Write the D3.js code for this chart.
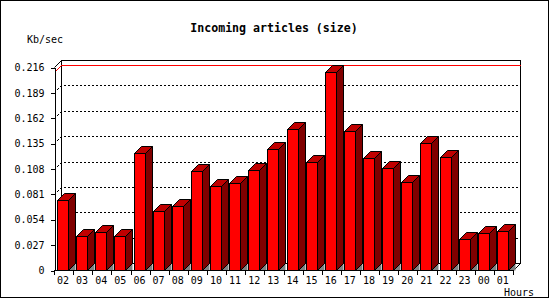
<!DOCTYPE html>
<html>
<head>
<meta charset="utf-8">
<script src="https://cdn.jsdelivr.net/npm/d3@7"></script>
<style>
    body { margin: 0; background: #fff; }
    svg { display: block; }
    text { font-family: "DejaVu Sans Mono", monospace; fill: #000; }
</style>
</head>
<body>
<svg id="chart"></svg>
<script>
// data
let hours = ['02', '03', '04', '05', '06', '07', '08', '09', '10', '11', '12', '13',
    '14', '15', '16', '17', '18', '19', '20', '21', '22', '23', '00', '01'];
let sizes = [0.0745, 0.0359, 0.0401, 0.0359, 0.1242, 0.0624, 0.0681, 0.1050,
    0.0890, 0.0922, 0.1061, 0.1287, 0.1500, 0.1146, 0.2107, 0.1479,
    0.1192, 0.1085, 0.0936, 0.1351, 0.1202, 0.0330, 0.0394, 0.0415];
let yTicks = [0, 0.027, 0.054, 0.081, 0.108, 0.135, 0.162, 0.189, 0.216];

const width = 550;
const height = 300;
const depth = 7;
const plotLeft = 54, plotRight = 513, plotBottom = 270, plotTop = 67;

let svg = d3.select('#chart')
    .attr('width', width)
    .attr('height', height)
    .attr('shape-rendering', 'crispEdges');

let x = d3.scaleBand()
    .domain(hours)
    .range([plotLeft, plotRight]);

let y = d3.scaleLinear()
    .domain([0, d3.max(yTicks)])
    .range([plotBottom, plotTop]);

// outer frame
svg.append('rect')
    .attr('x', 0.5).attr('y', 0.5)
    .attr('width', 548).attr('height', 297)
    .attr('fill', 'none').attr('stroke', '#000');

svg.append('text')
    .attr('x', 274).attr('y', 28)
    .attr('dy', '0.35em')
    .attr('text-anchor', 'middle')
    .style('font-size', '11.6px')
    .style('font-weight', 'bold')
    .text('Incoming articles (size)');

svg.append('text')
    .attr('x', 45).attr('y', 39)
    .attr('dy', '0.35em')
    .attr('text-anchor', 'middle')
    .style('font-size', '10px')
    .text('Kb/sec');

// back wall
svg.append('rect')
    .attr('x', plotLeft + depth + 0.5).attr('y', y(d3.max(yTicks)) - depth + 0.5)
    .attr('width', plotRight - plotLeft).attr('height', plotBottom - plotTop)
    .attr('fill', '#fff').attr('stroke', '#000');

// top edge of the left wall
svg.append('line')
    .attr('x1', plotLeft + 0.5).attr('y1', y(d3.max(yTicks)) + 0.5)
    .attr('x2', plotLeft + depth + 0.5).attr('y2', y(d3.max(yTicks)) - depth + 0.5)
    .attr('stroke', '#000')
    .attr('shape-rendering', 'auto');

// dotted grid
svg.selectAll('.grid')
    .data(yTicks.filter(d => d > 0 && d < d3.max(yTicks)))
    .enter()
    .append('polyline')
    .classed('grid', true)
    .attr('points', d => {
        let yy = Math.round(y(d)) + 0.5;
        return [[plotLeft + 0.5, yy], [plotLeft + depth + 0.5, yy - depth], [plotRight + depth + 0.5, yy - depth]].join(' ');
    })
    .attr('fill', 'none')
    .attr('stroke', '#000')
    .attr('stroke-dasharray', '2,2');

// maximum line
let maxY = Math.round(y(d3.max(sizes))) + 0.5;
svg.append('polyline')
    .attr('points', [[plotLeft + 0.5, maxY], [plotLeft + depth + 0.5, maxY - depth], [plotRight + depth + 0.5, maxY - depth]].join(' '))
    .attr('fill', 'none')
    .attr('stroke', '#ff0000');

// right floor edge
svg.append('line')
    .attr('x1', plotRight + 0.5).attr('y1', plotBottom + 0.5)
    .attr('x2', plotRight + depth + 0.5).attr('y2', plotBottom - depth + 0.5)
    .attr('stroke', '#000')
    .attr('shape-rendering', 'auto');

// bars
let bars = svg.selectAll('.bar')
    .data(sizes)
    .enter()
    .append('g')
    .classed('bar', true);

function barBox(d, i) {
    let x0 = Math.round(x(hours[i])) + 3 + 0.5;
    let x1 = x0 + 11;
    let yt = Math.round(y(d)) + 0.5;
    let yb = plotBottom + 0.5;
    return { x0, x1, yt, yb };
}

bars.append('polygon')
    .attr('points', (d, i) => {
        let b = barBox(d, i);
        return [[b.x1, b.yb], [b.x1 + depth, b.yb - depth], [b.x1 + depth, b.yb]].join(' ');
    })
    .attr('fill', '#808080')
    .attr('shape-rendering', 'auto');

bars.append('polygon')
    .attr('points', (d, i) => {
        let b = barBox(d, i);
        return [[b.x1, b.yt], [b.x1 + depth, b.yt - depth], [b.x1 + depth, b.yb - depth], [b.x1, b.yb]].join(' ');
    })
    .attr('fill', '#800000')
    .attr('stroke', '#000')
    .attr('shape-rendering', 'auto');

bars.append('polygon')
    .attr('points', (d, i) => {
        let b = barBox(d, i);
        return [[b.x0, b.yt], [b.x0 + depth, b.yt - depth], [b.x1 + depth, b.yt - depth], [b.x1, b.yt]].join(' ');
    })
    .attr('fill', '#c00000')
    .attr('stroke', '#000')
    .attr('shape-rendering', 'auto');

bars.append('rect')
    .attr('x', (d, i) => barBox(d, i).x0)
    .attr('y', (d, i) => barBox(d, i).yt)
    .attr('width', 11)
    .attr('height', (d, i) => barBox(d, i).yb - barBox(d, i).yt)
    .attr('fill', '#ff0000')
    .attr('stroke', '#000');

// y axis
let yAxis = svg.append('g')
    .attr('transform', `translate(${plotLeft + 0.5},0.5)`)
    .call(d3.axisLeft(y)
        .tickValues(yTicks)
        .tickSize(4)
        .tickSizeOuter(0)
        .tickPadding(6)
        .tickFormat(d => d === 0 ? '0' : d3.format('.3f')(d)));
yAxis.selectAll('text')
    .style('font-size', '10px')
    .style('font-family', '"DejaVu Sans Mono", monospace');

// floor front edge
svg.append('line')
    .attr('x1', plotLeft).attr('y1', plotBottom + 0.5)
    .attr('x2', plotRight + 1).attr('y2', plotBottom + 0.5)
    .attr('stroke', '#000');

// x ticks on band edges
let edges = hours.map(h => Math.round(x(h))).concat([plotRight]);
svg.selectAll('.xtick')
    .data(edges)
    .enter()
    .append('line')
    .classed('xtick', true)
    .attr('x1', d => d + 0.5).attr('x2', d => d + 0.5)
    .attr('y1', plotBottom).attr('y2', plotBottom + 5)
    .attr('stroke', '#000');

svg.selectAll('.xlabel')
    .data(hours)
    .enter()
    .append('text')
    .classed('xlabel', true)
    .attr('x', d => x(d) + 9)
    .attr('y', 280)
    .attr('dy', '0.35em')
    .attr('text-anchor', 'middle')
    .style('font-size', '10px')
    .text(d => d);

svg.append('text')
    .attr('x', 519).attr('y', 292)
    .attr('dy', '0.35em')
    .attr('text-anchor', 'middle')
    .style('font-size', '10px')
    .text('Hours');
</script>
</body>
</html>
